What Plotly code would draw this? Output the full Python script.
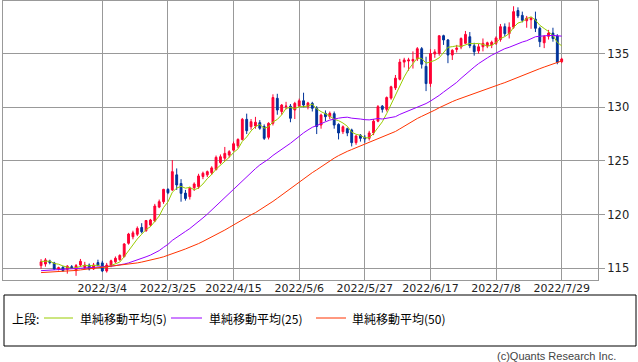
import pandas as pd
import plotly.graph_objects as go

# ---- data ----
dates = [f"{d.year}/{d.month}/{d.day}" for d in pd.bdate_range("2022-02-14", "2022-07-29")]

open_ = [115.25,115.4,115.68,115.5,114.95,115.1,114.9,115.15,114.78,115.31,
         115.06,115.3,114.94,115.53,115.5,114.75,115.3,115.6,115.8,116.1,
         117.33,117.94,118.17,118.8,118.5,119.03,119.4,120.7,121.2,122.35,
         122.3,123.7,122.9,122.0,121.67,122.5,122.6,123.55,123.7,123.9,
         124.2,124.85,125.25,125.55,126.0,126.4,127.0,128.87,128.18,128.25,
         128.56,128.2,127.2,128.5,130.83,129.6,130.05,130.1,129.74,130.1,
         130.6,130.05,130.36,129.9,128.34,129.43,129.12,129.4,128.4,127.72,
         128.0,127.88,126.7,127.4,127.2,127.1,127.6,128.7,130.1,129.8,
         130.85,131.8,132.6,134.2,134.3,134.3,134.5,135.45,133.8,132.2,
         134.95,135.0,136.66,136.26,134.86,135.38,135.6,135.95,136.56,135.72,
         135.23,135.63,135.7,135.8,135.95,136.3,137.5,136.85,137.45,139.0,
         138.55,138.05,138.15,138.2,137.35,136.0,136.6,136.9,136.63,134.24]

high = [115.85,115.95,115.8,115.6,115.15,115.2,115.3,115.3,115.4,115.87,
        115.6,115.45,115.5,115.8,115.7,115.5,115.8,116.1,116.3,117.35,
        118.3,118.5,118.9,119.2,119.5,119.6,121.0,121.4,122.4,122.45,
        125.08,124.3,123.3,122.3,122.6,123.0,123.8,124.0,124.1,124.5,
        125.5,125.6,126.3,126.0,126.8,127.1,129.0,129.4,128.9,129.1,
        128.8,128.4,128.6,131.2,131.25,130.3,130.5,130.3,130.5,130.8,
        131.35,130.5,130.5,130.1,129.4,129.7,129.6,129.6,128.5,128.3,
        128.1,128.0,127.4,127.5,127.4,127.8,128.9,130.2,130.2,131.0,
        132.0,133.0,134.5,134.6,134.6,135.2,135.6,135.6,134.7,135.4,
        135.4,136.7,136.75,136.35,135.4,135.8,136.5,137.1,137.0,136.0,
        135.9,136.4,136.1,136.2,136.6,137.75,137.8,137.9,139.4,139.3,
        138.9,138.5,138.4,138.9,137.5,136.7,137.2,137.4,136.8,134.6]

low = [114.95,115.15,115.37,114.85,114.8,114.7,114.5,114.95,114.3,115.15,
       114.9,114.8,114.85,115.2,114.65,114.6,115.1,115.5,115.7,116.0,
       117.2,117.7,118.0,118.25,118.4,118.9,119.3,120.6,121.0,121.9,
       122.2,122.3,121.2,121.3,121.4,122.2,122.4,123.3,123.5,123.7,
       124.1,124.7,125.0,125.3,125.9,126.2,126.9,127.5,127.9,128.0,
       127.9,126.95,127.0,128.3,129.3,129.3,129.8,128.6,128.9,130.0,
       130.0,129.8,129.6,127.5,128.0,128.7,128.9,128.0,127.0,127.5,
       127.3,126.35,126.5,126.8,126.7,126.9,127.4,128.6,129.5,129.6,
       130.7,131.6,132.5,133.7,133.4,133.6,134.3,133.6,131.5,131.9,
       134.6,134.8,135.8,134.1,134.4,135.1,135.4,135.9,135.5,134.8,
       135.0,135.2,135.5,135.5,135.8,136.1,136.6,136.4,137.3,138.3,
       137.9,137.4,137.3,137.0,135.6,135.5,136.3,136.1,134.0,134.1]

close = [115.6,115.78,115.53,114.94,115.05,114.78,115.2,115.0,115.25,115.65,
         115.3,114.94,115.31,115.25,114.75,115.3,115.7,115.93,116.2,117.26,
         118.19,118.3,118.72,118.4,119.45,119.5,120.8,121.2,122.35,122.04,
         124.0,122.76,121.98,121.5,122.45,122.85,123.6,123.85,124.0,124.35,
         125.33,125.39,125.7,125.86,126.6,127.0,128.87,127.81,128.65,128.6,
         128.04,127.1,128.5,130.9,129.74,130.2,130.1,128.97,130.36,130.6,
         130.2,130.4,129.9,128.2,129.27,129.12,129.43,128.34,127.6,128.18,
         127.6,126.7,127.32,127.1,127.05,127.6,128.7,130.05,129.8,130.9,
         131.9,132.7,134.2,134.4,134.4,134.45,135.45,134.0,132.2,135.0,
         135.15,136.65,136.26,134.86,135.3,135.5,136.4,136.78,135.72,135.17,
         135.63,135.95,136.0,136.05,136.45,137.5,136.85,137.45,138.9,138.5,
         138.1,138.3,138.3,137.35,136.1,136.6,136.9,136.4,134.18,134.49]

ma5 = [115.64,115.68,115.67,115.45,115.38,115.22,115.10,114.99,115.06,115.18,
       115.28,115.23,115.29,115.29,115.11,115.11,115.26,115.39,115.58,116.08,
       116.66,117.18,117.73,118.17,118.61,118.87,119.37,119.87,120.66,121.18,
       122.08,122.47,122.63,122.46,122.54,122.31,122.48,122.85,123.35,123.73,
       124.23,124.58,124.95,125.33,125.78,126.11,126.81,127.23,127.79,128.19,
       128.39,128.04,128.18,128.63,128.86,129.29,129.89,129.98,129.87,130.05,
       130.05,130.11,130.29,129.86,129.59,129.38,129.18,128.87,128.75,128.53,
       128.23,127.68,127.48,127.38,127.15,127.15,127.55,128.10,128.64,129.41,
       130.27,131.07,131.90,132.82,133.52,134.03,134.58,134.54,134.10,134.22,
       134.36,134.60,135.05,135.58,135.64,135.71,135.66,135.77,135.94,135.91,
       135.94,135.85,135.69,135.76,136.02,136.39,136.57,136.86,137.43,137.84,
       137.96,138.25,138.42,138.11,137.63,137.33,137.05,136.67,136.04,135.71]

ma25 = [114.78,114.80,114.82,114.83,114.85,114.87,114.90,114.93,114.97,115.00,
        115.03,115.05,115.08,115.12,115.13,115.15,115.20,115.25,115.30,115.40,
        115.50,115.63,115.77,115.92,116.07,116.23,116.43,116.65,116.95,117.23,
        117.60,117.90,118.18,118.43,118.70,119.01,119.35,119.69,120.04,120.43,
        120.83,121.22,121.61,121.99,122.37,122.72,123.14,123.51,123.92,124.28,
        124.62,124.88,125.17,125.51,125.82,126.07,126.36,126.64,126.99,127.32,
        127.61,127.88,128.13,128.29,128.49,128.64,128.80,128.91,128.98,129.04,
        129.07,128.98,128.96,128.90,128.84,128.82,128.88,128.95,128.90,128.95,
        129.02,129.12,129.33,129.49,129.64,129.81,130.01,130.18,130.34,130.57,
        130.81,131.10,131.41,131.70,131.99,132.31,132.69,133.07,133.42,133.74,
        134.06,134.35,134.59,134.84,135.06,135.29,135.45,135.58,135.76,135.93,
        136.07,136.19,136.36,136.56,136.61,136.67,136.68,136.68,136.66,136.62]

ma50 = [114.60,114.62,114.64,114.66,114.68,114.70,114.72,114.75,114.80,114.85,
        114.90,114.95,115.00,115.05,115.08,115.12,115.16,115.20,115.25,115.30,
        115.36,115.43,115.50,115.58,115.66,115.75,115.85,115.96,116.07,116.20,
        116.35,116.50,116.65,116.80,116.95,117.12,117.30,117.50,117.70,117.90,
        118.10,118.33,118.56,118.80,119.05,119.30,119.55,119.78,119.98,120.18,
        120.43,120.65,120.91,121.23,121.52,121.83,122.13,122.41,122.71,123.01,
        123.31,123.62,123.91,124.17,124.46,124.74,125.01,125.26,125.49,125.71,
        125.89,126.06,126.23,126.41,126.56,126.72,126.88,127.06,127.21,127.38,
        127.54,127.74,127.98,128.24,128.48,128.71,128.95,129.15,129.32,129.53,
        129.73,129.95,130.16,130.34,130.52,130.69,130.84,131.02,131.16,131.29,
        131.44,131.62,131.77,131.87,132.01,132.15,132.29,132.46,132.63,132.78,
        132.94,133.10,133.27,133.45,133.59,133.74,133.89,134.05,134.18,134.31]

tick_labels = ["2022/3/4", "2022/3/25", "2022/4/15", "2022/5/6",
               "2022/5/27", "2022/6/17", "2022/7/8", "2022/7/29"]
y_ticks = [115, 120, 125, 130, 135]

series_names = ["単純移動平均(5)", "単純移動平均(25)", "単純移動平均(50)"]

# ---- style ----
RED = "#ff0033"
BLUE = "#003399"
MA_COLORS = ["#99cc00", "#9900ff", "#ff3300"]
GRID = "#999999"

xs = list(range(len(dates)))
tick_pos = [dates.index(t) for t in tick_labels]

fig = go.Figure()
fig.add_trace(go.Candlestick(
    x=xs, open=open_, high=high, low=low, close=close,
    increasing=dict(line=dict(color=RED, width=1), fillcolor=RED),
    decreasing=dict(line=dict(color=BLUE, width=1), fillcolor=BLUE),
    whiskerwidth=0, showlegend=False, hoverinfo="skip"))

for vals, col, nm in zip([ma5, ma25, ma50], MA_COLORS, series_names):
    fig.add_trace(go.Scatter(x=xs, y=vals, mode="lines", name=nm,
                             line=dict(color=col, width=1), showlegend=False,
                             hoverinfo="skip"))

# plot area in pixels: x 3..598, y 1..280
PL, PR, PT, PB = 3, 598, 1, 280
W, H = 638, 362


def px(xp):
    return (xp - PL) / (PR - PL)


def py(yp):
    return (PB - yp) / (PB - PT)


fig.update_layout(
    width=W, height=H,
    margin=dict(l=PL, r=W - PR, t=PT, b=H - PB, pad=0),
    paper_bgcolor="white", plot_bgcolor="white",
    showlegend=False, boxgap=0.4,
    font=dict(family="DejaVu Sans", size=11, color="#222222"),
)
fig.update_xaxes(
    range=[-8.7, 127.3], tickmode="array", tickvals=tick_pos, ticktext=tick_labels,
    showgrid=True, gridcolor=GRID, gridwidth=1, zeroline=False,
    showline=True, linecolor=GRID, linewidth=1, mirror=True,
    ticks="", rangeslider=dict(visible=False), ticklabelstandoff=-2,
    tickfont=dict(family="DejaVu Sans", size=11, color="#222222"),
)
fig.update_yaxes(
    side="right", range=[113.91, 139.89], tickmode="array", tickvals=y_ticks,
    showgrid=True, gridcolor=GRID, gridwidth=1, zeroline=False,
    showline=True, linecolor=GRID, linewidth=1, mirror=True,
    ticks="outside", ticklen=6, tickcolor=GRID, tickwidth=1,
    tickfont=dict(family="DejaVu Sans", size=11.5, color="#222222"),
)

# legend box
shapes = [dict(type="rect", xref="paper", yref="paper",
               x0=px(4), x1=px(636), y0=py(295), y1=py(346),
               line=dict(color="black", width=1), fillcolor="rgba(0,0,0,0)")]
annotations = [dict(xref="paper", yref="paper", x=px(10), y=py(318), text="上段:",
                    showarrow=False, xanchor="left", yanchor="middle",
                    font=dict(family="Noto Sans CJK JP", size=12, color="black"))]
item_x = [(44, 73, 78), (171, 202, 207), (316, 346, 350)]
for (l0, l1, tx), col, nm in zip(item_x, MA_COLORS, series_names):
    shapes.append(dict(type="line", xref="paper", yref="paper",
                       x0=px(l0), x1=px(l1), y0=py(318), y1=py(318),
                       line=dict(color=col, width=1)))
    annotations.append(dict(xref="paper", yref="paper", x=px(tx), y=py(318), text=nm,
                            showarrow=False, xanchor="left", yanchor="middle",
                            font=dict(family="Noto Sans CJK JP", size=12, color="black")))
annotations.append(dict(xref="paper", yref="paper", x=px(618), y=py(356),
                        text="(c)Quants Research Inc.", showarrow=False,
                        xanchor="right", yanchor="middle",
                        font=dict(family="Liberation Sans", size=11, color="#444444")))
fig.update_layout(shapes=shapes, annotations=annotations)

fig.write_html("out.html", config={"displayModeBar": False},
               post_script="document.body.style.margin='0';document.body.style.overflow='hidden';")
